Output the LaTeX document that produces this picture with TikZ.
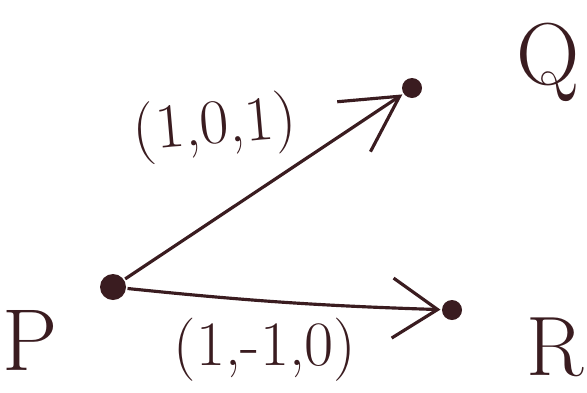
\documentclass[tikz,border=0pt]{standalone}
\usepackage{tikz}
\usetikzlibrary{arrows.meta}
\definecolor{inkbrown}{RGB}{58,28,32}

\begin{document}
\begin{tikzpicture}[line width=0.9pt, draw=inkbrown, every node/.style={text=inkbrown}]
  \useasboundingbox (0,0) rectangle (5.87,3.92);
  \node[circle, fill=inkbrown, inner sep=0pt, minimum size=0.26cm] (P) at (1.13,1.05) {};
  \node[circle, fill=inkbrown, inner sep=0pt, minimum size=0.2cm] (Q) at (4.12,3.04) {};
  \node[circle, fill=inkbrown, inner sep=0pt, minimum size=0.2cm] (R) at (4.52,0.82) {};
  \draw[-{Straight Barb[length=5.5mm, width=6mm, line width=0.9pt]}, inkbrown] (P) -- (Q);
  \draw[-{Straight Barb[length=4.5mm, width=6mm, line width=0.9pt]}, inkbrown] (P) to[bend right=2] (R);
  \node[font=\fontsize{25}{28}\selectfont] (lP) at (0.30,0.52) {P};
  \node[font=\fontsize{25}{28}\selectfont] (lQ) at (5.48,3.30) {Q};
  \node[font=\fontsize{24}{27}\selectfont] (lR) at (5.55,0.45) {R};
  \node[font=\fontsize{18}{21}\selectfont, rotate=5] (v1) at (2.15,2.64) {(1,0,1)};
  \node[font=\fontsize{18}{21}\selectfont] (v2) at (2.65,0.42) {(1,-1,0)};
\end{tikzpicture}
\end{document}
